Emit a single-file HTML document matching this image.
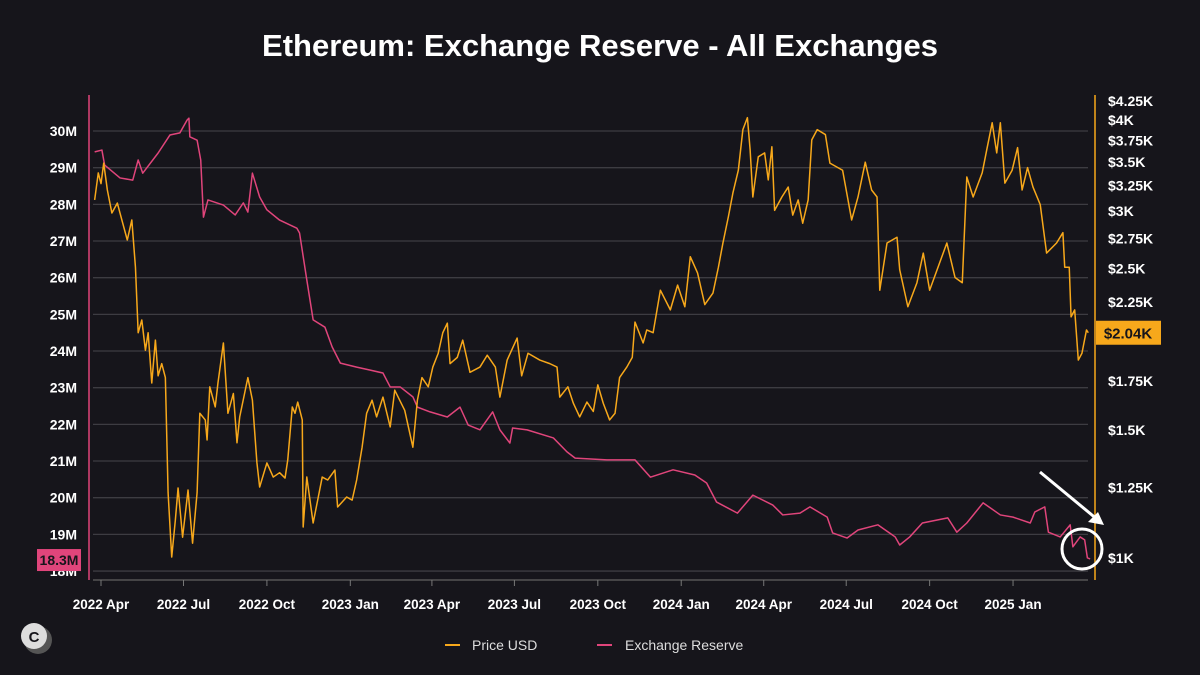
<!DOCTYPE html>
<html><head><meta charset="utf-8"><style>
html,body{margin:0;padding:0;background:#16151b;}
svg{display:block;font-family:"Liberation Sans",sans-serif;}
</style></head><body>
<svg id="chart" width="1200" height="675" viewBox="0 0 1200 675" xmlns="http://www.w3.org/2000/svg">
<rect width="1200" height="675" fill="#16151b"/>
<text x="600" y="56" text-anchor="middle" fill="#fff" font-size="31" font-weight="bold">Ethereum: Exchange Reserve - All Exchanges</text>
<g id="grid"></g><g id="axes"></g><g id="series"></g>
<g>
<line x1="1040" y1="472" x2="1098" y2="520" stroke="#fff" stroke-width="3"/>
<polygon points="1104,525 1088,522 1098,512" fill="#fff"/>
<circle cx="1082" cy="549" r="20" fill="none" stroke="#fff" stroke-width="3"/>
</g>
<g>
<line x1="445" y1="645" x2="460" y2="645" stroke="#f7a81b" stroke-width="2"/>
<text x="472" y="650" fill="#ddd" font-size="14">Price USD</text>
<line x1="597" y1="645" x2="612" y2="645" stroke="#e0457b" stroke-width="2"/>
<text x="625" y="650" fill="#ddd" font-size="14">Exchange Reserve</text>
</g>
<g>
<circle cx="38" cy="640" r="14" fill="#555"/><circle cx="34" cy="636" r="13" fill="#ddd"/>
<text x="34" y="642" text-anchor="middle" font-size="15" font-weight="bold" fill="#16151b">C</text>
</g>
</svg>
<script>
const resDays=[-7,1,4,21,35,41,46,63,76,87,95,97,98,106,110,113,118,135,148,157,162,167,175,183,197,216,219,227,234,247,255,264,282,297,311,319,330,344,349,363,382,396,405,418,432,440,451,454,470,499,514,523,558,589,606,631,655,668,679,702,719,741,752,771,782,801,807,823,835,857,876,881,892,906,934,944,955,973,992,1006,1025,1030,1041,1045,1058,1069,1072,1080,1085,1088,1091];
const resVals=[29.43,29.48,29.07,28.72,28.66,29.21,28.85,29.40,29.89,29.95,30.30,30.35,29.84,29.75,29.21,27.65,28.12,27.98,27.71,28.04,27.79,28.85,28.20,27.85,27.57,27.35,27.22,25.94,24.85,24.65,24.11,23.67,23.56,23.48,23.40,23.02,23.02,22.75,22.47,22.34,22.20,22.47,21.98,21.85,22.34,21.85,21.49,21.90,21.85,21.63,21.25,21.08,21.03,21.03,20.56,20.76,20.62,20.40,19.88,19.58,20.07,19.80,19.53,19.58,19.75,19.47,19.04,18.90,19.12,19.26,18.93,18.71,18.93,19.31,19.45,19.06,19.31,19.86,19.53,19.47,19.31,19.61,19.75,19.06,18.93,19.26,18.66,18.93,18.85,18.36,18.33];
const priceDays=[-7,-3,0,3,7,12,18,23,29,34,38,41,45,49,52,56,60,63,67,71,74,78,82,85,90,96,101,106,109,115,117,120,126,129,135,140,146,150,153,162,167,172,175,183,190,197,203,206,211,214,217,222,223,227,234,239,244,250,258,261,271,277,282,288,293,299,304,311,319,324,335,344,349,354,361,366,372,377,382,385,393,399,407,418,426,435,440,448,459,464,471,484,495,503,506,515,521,528,536,543,548,554,561,567,572,580,586,589,598,602,609,617,628,636,644,650,658,666,675,681,686,692,697,703,708,713,716,719,725,732,736,740,743,751,758,763,769,774,780,784,790,799,804,818,828,835,843,850,856,859,867,878,881,890,900,907,914,933,942,950,955,962,972,977,983,988,992,997,1005,1011,1016,1022,1028,1036,1043,1054,1061,1063,1068,1070,1074,1078,1082,1087,1089];
const priceVals=[3106,3383,3270,3490,3205,2980,3075,2915,2736,2915,2510,2040,2124,1930,2040,1740,1993,1780,1850,1770,1230,1003,1127,1248,1068,1240,1048,1230,1581,1548,1453,1719,1613,1740,1975,1581,1683,1440,1563,1770,1648,1351,1252,1351,1292,1310,1288,1364,1613,1581,1638,1548,1103,1292,1117,1201,1292,1280,1321,1175,1213,1201,1280,1420,1581,1648,1563,1664,1514,1701,1596,1420,1648,1770,1719,1830,1912,2040,2103,1850,1887,1993,1800,1830,1900,1830,1664,1871,2006,1780,1912,1871,1850,1830,1664,1719,1632,1563,1638,1590,1730,1632,1548,1581,1770,1830,1887,2110,1975,2058,2040,2334,2193,2372,2215,2595,2465,2230,2313,2510,2710,2945,3175,3412,3880,4030,3640,3135,3560,3605,3309,3675,3005,3135,3235,2960,3106,2885,3106,3756,3880,3820,3490,3412,2915,3135,3500,3205,3135,2334,2710,2760,2490,2215,2390,2625,2334,2710,2430,2390,3340,3135,3385,3640,3965,3605,3965,3275,3412,3665,3205,3440,3235,3060,2625,2710,2800,2510,2510,2145,2193,1871,1912,2058,2040];
const leftTicks=[30,29,28,27,26,25,24,23,22,21,20,19,18];
const rightTicks=[4250,4000,3750,3500,3250,3000,2750,2500,2250,1750,1500,1250,1000];
const rightTickLabels=["$4.25K","$4K","$3.75K","$3.5K","$3.25K","$3K","$2.75K","$2.5K","$2.25K","$1.75K","$1.5K","$1.25K","$1K"];
const xTickDays=[0,91,183,275,365,456,548,640,731,822,914,1006];
const xTickLabels=["2022 Apr","2022 Jul","2022 Oct","2023 Jan","2023 Apr","2023 Jul","2023 Oct","2024 Jan","2024 Apr","2024 Jul","2024 Oct","2025 Jan"];
const lastReserve="18.3M", lastPrice="$2.04K", lastPriceVal=2040, lastReserveVal=18.3;

const NS="http://www.w3.org/2000/svg";
const xS=d=>101+d*0.9066;
const yL=v=>131+(30-v)*36.67;
const yR=p=>558-(Math.log10(p)-3)*727.5;
function mk(tag,attrs,parent,txt){const e=document.createElementNS(NS,tag);for(const k in attrs)e.setAttribute(k,attrs[k]);if(txt!==undefined)e.textContent=txt;parent.appendChild(e);return e;}
const grid=document.getElementById('grid'),axes=document.getElementById('axes'),series=document.getElementById('series');
leftTicks.forEach(v=>{
  const l=mk('line',{x1:93,x2:1088,y1:yL(v),y2:yL(v),stroke:'#3d3c42','stroke-width':1.3},grid);
  
  
  const t=mk('text',{x:77,y:yL(v)+5,'text-anchor':'end',fill:'#fff','font-size':14,'font-weight':'bold'},axes,v+'M');
  
  
});
rightTicks.forEach((p,i)=>{
  const t=mk('text',{x:1108,y:yR(p)+5,fill:'#fff','font-size':14,'font-weight':'bold'},axes,rightTickLabels[i]);
  
  
});
const la=mk('line',{x1:89,x2:89,y1:95,y2:580,stroke:'#e0457b','stroke-width':1.5},axes);


const ra=mk('line',{x1:1095,x2:1095,y1:95,y2:580,stroke:'#f7a81b','stroke-width':1.5},axes);


const xa=mk('line',{x1:93,x2:1088,y1:580,y2:580,stroke:'#555','stroke-width':1.5},axes);


xTickDays.forEach((d,i)=>{
  mk('line',{x1:xS(d),x2:xS(d),y1:580,y2:586,stroke:'#777'},axes);
  const t=mk('text',{x:xS(d),y:609,'text-anchor':'middle',fill:'#fff','font-size':13.5,'font-weight':'bold'},axes,xTickLabels[i]);
  
  
});
const rp=mk('polyline',{points:resDays.map((d,i)=>xS(d)+','+yL(resVals[i])).join(' '),fill:'none',stroke:'#e0457b','stroke-width':1.5,'stroke-linejoin':'round'},series);


const pp=mk('polyline',{points:priceDays.map((d,i)=>xS(d)+','+yR(priceVals[i])).join(' '),fill:'none',stroke:'#f7a81b','stroke-width':1.5,'stroke-linejoin':'round'},series);


const ry=yL(lastReserveVal);
const rb=mk('g',{},axes);


mk('rect',{x:37,y:ry-11,width:44,height:22,fill:'#e0457b'},rb);
mk('text',{x:59,y:ry+5,'text-anchor':'middle',fill:'#16151b','font-size':14,'font-weight':'bold'},rb,lastReserve);
const py=yR(lastPriceVal);
const pb=mk('g',{},axes);


mk('rect',{x:1096,y:py-12,width:65,height:24,fill:'#f7a81b'},pb);
mk('text',{x:1128,y:py+6,'text-anchor':'middle',fill:'#16151b','font-size':15,'font-weight':'bold'},pb,lastPrice);
</script>
</body></html>
